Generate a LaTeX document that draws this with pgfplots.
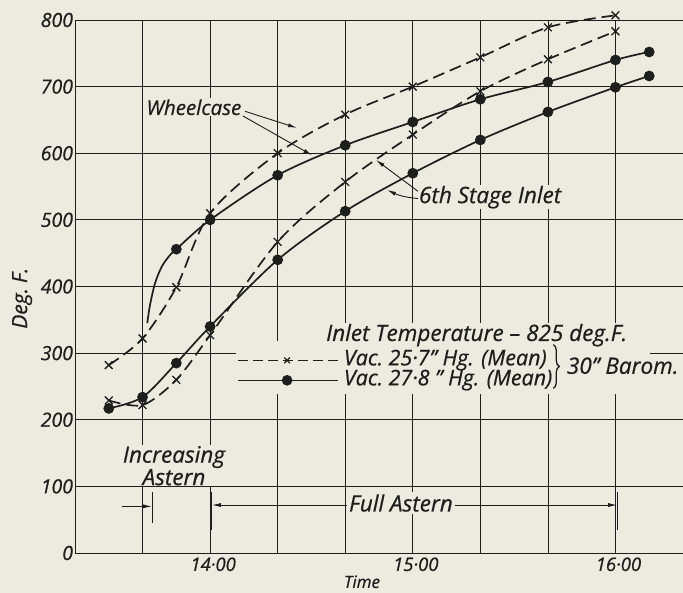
\documentclass[border=0pt]{standalone}
\usepackage{pgfplots}
\pgfplotsset{compat=1.18}
\usepackage{fontspec}
\setmainfont{Open Sans}[ItalicFeatures={FakeBold=0.6}]
\usetikzlibrary{backgrounds,decorations.pathreplacing,arrows.meta,calc}
\definecolor{bg}{RGB}{237,235,224}
\definecolor{ink}{RGB}{30,30,28}

\pgfplotstableread{
x y
30 282
40 322
50 399
60 510
80 600
100 658
120 700
140 744
160 789
180 807
}\wtwentyfive
\pgfplotstableread{
x y
30 229
40 222
50 260
60 327
80 467
100 557
120 628
140 693
160 741
180 783
}\stwentyfive
\pgfplotstableread{
x y
41.4 345
42.2 372
43.7 405
45.7 430
48.1 447
50 456
60 500
80 567
100 612
120 647
140 681
160 707
180 740
190 752
}\wtwentyseven
\pgfplotstableread{
x y
30 217
40 234
50 285
60 340
80 440
100 513
120 570
140 620
160 662
180 699
190 716
}\stwentyseven

\newcommand{\txt}{\fontsize{22.5bp}{22bp}\selectfont\itshape}
\newcommand{\legtxt}{\fontsize{21.5bp}{22bp}\selectfont\itshape}
\begin{document}
\begin{tikzpicture}[font=\itshape]
\begin{axis}[
  scale only axis, width=608bp, height=533bp,
  xmin=20, xmax=200, ymin=0, ymax=800,
  clip=false,
  axis lines*=left,
  axis line style={ink, line width=0.9bp},
  xtick={40,60,...,180},
  xticklabels={,14·00,,,15·00,,,16·00},
  ytick={0,100,...,800},
  major tick length=0pt,
  grid=major,
  major grid style={ink, line width=0.75bp},
  /pgf/number format/assume math mode=true,
  yticklabel style={font=\fontsize{19.5bp}{21bp}\selectfont\itshape, text=ink, xshift=1.5bp},
  xticklabel style={font=\fontsize{18.5bp}{20bp}\selectfont\itshape, text=ink, xshift=3bp, yshift=-1bp},
  xlabel={Time},
  xlabel style={at={(axis description cs:0.472,-0.054)}, anchor=center, font=\fontsize{17bp}{18bp}\selectfont\itshape, text=ink},
  ylabel={Deg.\hspace{5bp}F.},
  ylabel style={at={(axis description cs:-0.087,0.478)}, anchor=center, font=\fontsize{21bp}{22bp}\selectfont\itshape, text=ink},
  legend style={at={(axis cs:67.7,306)}, anchor=north west, draw=none, fill=none,
    inner sep=1bp, row sep=0bp, column sep=5bp,
    font=\legtxt, text=ink,
    nodes={inner sep=0pt, text height=15bp, text depth=5bp}},
  legend cell align=left,
  legend image code/.code={\draw[mark repeat=2, mark phase=2, #1] plot coordinates {(0bp,0bp) (49bp,0bp) (100bp,0bp)};},
  every axis plot/.append style={ink, line width=1.7bp},
]
\coordinate (sw) at (rel axis cs:0,0);
% paper showing through behind the legend (grid interrupted)
\fill[bg] (axis cs:67.7,318) rectangle (axis cs:190.2,238);

% curves
\addplot[smooth, tension=0.5, dash pattern=on 12bp off 6bp, mark=x, mark size=5.5bp, mark options={solid, line width=1.3bp}, forget plot] table {\wtwentyfive};
\addplot[smooth, tension=0.5, dash pattern=on 12bp off 6bp, mark=x, mark size=5.5bp, mark options={solid, line width=1.3bp}, forget plot] table {\stwentyfive};
\addplot[smooth, tension=0.5, mark=*, mark size=4.5bp, mark indices={6,7,8,9,10,11,12,13,14}, forget plot] table {\wtwentyseven};
\addplot[smooth, tension=0.5, mark=*, mark size=4.5bp, forget plot] table {\stwentyseven};

% legend
\addlegendimage{ink, line width=1.6bp, dash pattern=on 10bp off 5bp, mark=x, mark size=4bp, mark options={solid, line width=1.3bp}}
\addlegendentry{Vac.\ 25·7" Hg. (Mean)}
\addlegendimage{ink, line width=1.6bp, mark=*, mark size=4.5bp}
\addlegendentry{Vac.\ 27·8 " Hg. (Mean)}

% legend title and brace
\node[anchor=west, fill=bg, inner sep=1bp, text=ink, font=\txt] at (axis cs:94,327) {Inlet Temperature – 825 deg.F.};
\draw[ink, line width=1.3bp, decorate, decoration={brace, amplitude=6bp}] (axis cs:161.6,313) -- (axis cs:161.6,247);
\node[anchor=west, fill=bg, inner sep=1bp, text=ink, font=\txt] at (axis cs:165.3,281) {30" Barom.};

% Wheelcase
\node[fill=bg, inner sep=1bp, text=ink, font=\fontsize{20.5bp}{22bp}\selectfont\itshape] at (axis cs:55.2,669) {Wheelcase};
\draw[ink, line width=0.9bp, -{Latex[length=9bp,width=4bp]}] (axis cs:70.3,663) -- (axis cs:85.7,638);
\draw[ink, line width=0.9bp, -{Latex[length=9bp,width=4bp]}] (axis cs:69.7,656) -- (axis cs:90.2,597);

% 6th Stage Inlet
\node[anchor=west, fill=bg, inner sep=1bp, text=ink, font=\txt] at (axis cs:121.5,534) {6th Stage Inlet};
\draw[ink, line width=0.9bp, -{Latex[length=9bp,width=4bp]}] (axis cs:121.5,543) -- (axis cs:109.1,590);
\draw[ink, line width=0.9bp, -{Latex[length=9bp,width=4bp]}] (axis cs:121.5,532) to[bend left=10] (axis cs:112.4,545);

% Increasing Astern
\node[fill=bg, inner sep=1bp, align=center, text=ink, font=\fontsize{22.5bp}{19bp}\selectfont\itshape] at (axis cs:49.3,131) {Increasing\\Astern};
\draw[ink, line width=0.9bp, -{Latex[length=9bp,width=4bp]}] (axis cs:33.9,70) -- (axis cs:42.8,70);
\draw[ink, line width=0.9bp] (axis cs:42.8,45) -- (axis cs:42.8,92);

% Full Astern
\draw[ink, line width=0.9bp, {Latex[length=9bp,width=4bp]}-{Latex[length=9bp,width=4bp]}] (axis cs:60.5,72) -- (axis cs:180.5,72);
\draw[ink, line width=0.9bp] (axis cs:60.5,35) -- (axis cs:60.5,92);
\draw[ink, line width=0.9bp] (axis cs:180.5,35) -- (axis cs:180.5,92);
\node[fill=bg, inner sep=2bp, text=ink, font=\txt] at (axis cs:116.5,75) {Full Astern};
\end{axis}
\begin{pgfonlayer}{background}
\fill[bg] ($(sw)+(-75bp,-40bp)$) rectangle ($(sw)+(608bp,553bp)$);
\end{pgfonlayer}
\pgfresetboundingbox
\path[use as bounding box] ($(sw)+(-75bp,-40bp)$) rectangle ($(sw)+(608bp,553bp)$);
\end{tikzpicture}
\end{document}
